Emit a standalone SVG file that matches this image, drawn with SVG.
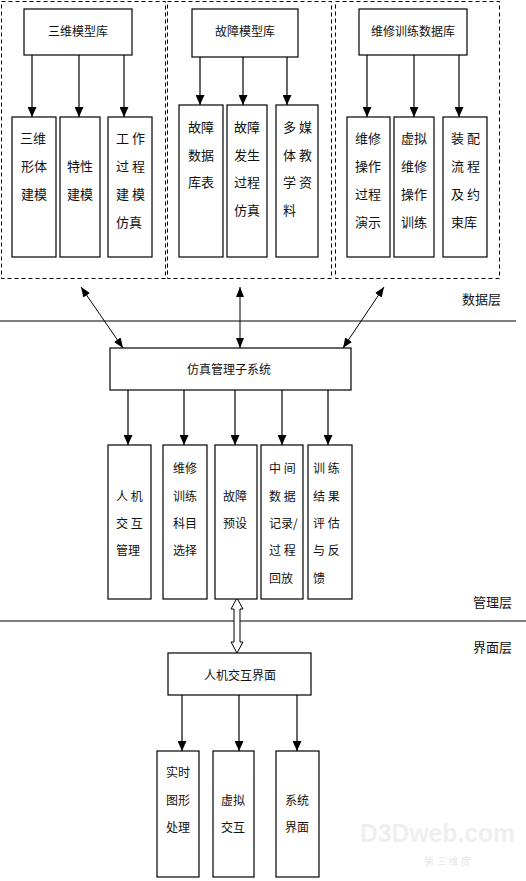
<svg xmlns="http://www.w3.org/2000/svg" width="526" height="881" viewBox="0 0 526 881">
<defs>
<marker id="ah" markerUnits="userSpaceOnUse" markerWidth="10" markerHeight="9" refX="10" refY="4.5" orient="auto"><path d="M0,0 L10,4.5 L0,9 z" fill="#000"/></marker>
<marker id="ah2" markerUnits="userSpaceOnUse" markerWidth="10" markerHeight="8" refX="10" refY="4" orient="auto-start-reverse"><path d="M0,0 L10,4 L0,8 z" fill="#000"/></marker>
</defs>
<style>
rect{fill:#fff;stroke:#000;stroke-width:1.2}
.dash{fill:none;stroke:#000;stroke-width:1;stroke-dasharray:4 3}
text{font-family:"Noto Sans CJK SC","Noto Sans",sans-serif;fill:#111}
.h{font-size:12px;text-anchor:middle}
.c{font-size:12px}
.t{font-size:13px}
.L{font-size:13px}
.a{stroke:#000;stroke-width:1.2;fill:none;marker-end:url(#ah)}
.d{stroke:#000;stroke-width:1;fill:none;marker-start:url(#ah2);marker-end:url(#ah2)}
.ln{stroke:#000;stroke-width:1.2}
</style>
<rect width="526" height="881" style="fill:#fff;stroke:none"/>

<g id="layers">
<line class="ln" x1="0" y1="321" x2="516" y2="321"/>
<line class="ln" x1="0" y1="621" x2="526" y2="621"/>
<text class="L" x="462" y="304">数据层</text>
<text class="L" x="473" y="607">管理层</text>
<text class="L" x="473" y="652">界面层</text>
</g>

<g id="groups">
<rect class="dash" x="1.5" y="1.5" width="164" height="277"/>
<rect class="dash" x="167.5" y="1.5" width="164" height="277"/>
<rect class="dash" x="335.5" y="1.5" width="164" height="277"/>
</g>

<g id="connectors">
<line class="a" x1="32" y1="55" x2="32" y2="117"/>
<line class="a" x1="79" y1="55" x2="79" y2="117"/>
<line class="a" x1="124" y1="55" x2="124" y2="117"/>
<line class="a" x1="200" y1="57" x2="200" y2="105"/>
<line class="a" x1="243" y1="57" x2="243" y2="105"/>
<line class="a" x1="287" y1="57" x2="287" y2="105"/>
<line class="a" x1="367" y1="55" x2="367" y2="117"/>
<line class="a" x1="414" y1="55" x2="414" y2="117"/>
<line class="a" x1="459" y1="55" x2="459" y2="117"/>
<line class="d" x1="81" y1="287" x2="123" y2="348"/>
<line class="d" x1="240" y1="287" x2="240" y2="348"/>
<line class="d" x1="384" y1="287" x2="343" y2="348"/>
<line class="a" x1="128" y1="390" x2="128" y2="445"/>
<line class="a" x1="184" y1="390" x2="184" y2="445"/>
<line class="a" x1="235" y1="390" x2="235" y2="445"/>
<line class="a" x1="282" y1="390" x2="282" y2="445"/>
<line class="a" x1="328" y1="390" x2="328" y2="445"/>
<polygon points="237,598 243,609 240,609 240,642 243,642 237,653 231,642 234,642 234,609 231,609" fill="#fff" stroke="#000" stroke-width="1"/>
<line class="a" x1="182" y1="695" x2="182" y2="751"/>
<line class="a" x1="239" y1="695" x2="239" y2="751"/>
<line class="a" x1="297" y1="695" x2="297" y2="751"/>
</g>

<g id="n-3dlib"><rect x="24" y="9" width="108" height="46"/><text class="h" x="78" y="36">三维模型库</text></g>
<g id="n-3d-1"><rect x="12" y="117" width="44" height="140"/><text class="t" x="20" y="143">三维</text><text class="t" x="21" y="171">形体</text><text class="t" x="21" y="199">建模</text></g>
<g id="n-3d-2"><rect x="60" y="117" width="40" height="140"/><text class="t" x="67" y="171">特性</text><text class="t" x="67" y="199">建模</text></g>
<g id="n-3d-3"><rect x="108" y="117" width="44" height="140"/><text class="t" x="116" y="143">工 作</text><text class="t" x="116" y="171">过 程</text><text class="t" x="116" y="199">建 模</text><text class="t" x="116" y="227">仿真</text></g>

<g id="n-faultlib"><rect x="192" y="9" width="106" height="48"/><text class="h" x="245" y="36">故障模型库</text></g>
<g id="n-f-1"><rect x="179" y="105" width="44" height="152"/><text class="t" x="188" y="132">故障</text><text class="t" x="188" y="160">数据</text><text class="t" x="188" y="187">库表</text></g>
<g id="n-f-2"><rect x="227" y="105" width="40" height="152"/><text class="t" x="234" y="132">故障</text><text class="t" x="234" y="160">发生</text><text class="t" x="234" y="187">过程</text><text class="t" x="234" y="215">仿真</text></g>
<g id="n-f-3"><rect x="276" y="105" width="42" height="152"/><text class="t" x="283" y="132">多 媒</text><text class="t" x="283" y="160">体 教</text><text class="t" x="283" y="187">学 资</text><text class="t" x="283" y="215">料</text></g>

<g id="n-trainlib"><rect x="359" y="9" width="108" height="46"/><text class="h" x="413" y="36">维修训练数据库</text></g>
<g id="n-t-1"><rect x="347" y="117" width="43" height="140"/><text class="t" x="355" y="143">维修</text><text class="t" x="355" y="171">操作</text><text class="t" x="355" y="199">过程</text><text class="t" x="355" y="227">演示</text></g>
<g id="n-t-2"><rect x="394" y="117" width="40" height="140"/><text class="t" x="401" y="143">虚拟</text><text class="t" x="401" y="171">维修</text><text class="t" x="401" y="199">操作</text><text class="t" x="401" y="227">训练</text></g>
<g id="n-t-3"><rect x="443" y="117" width="44" height="140"/><text class="t" x="451" y="143">装 配</text><text class="t" x="451" y="171">流 程</text><text class="t" x="451" y="199">及 约</text><text class="t" x="451" y="227">束库</text></g>

<g id="n-sim"><rect x="110" y="348" width="241" height="42"/><text class="h" x="229" y="374">仿真管理子系统</text></g>
<g id="n-m-1"><rect x="108" y="445" width="43" height="154"/><text class="c" x="116" y="501">人 机</text><text class="c" x="116" y="528">交 互</text><text class="c" x="116" y="555">管理</text></g>
<g id="n-m-2"><rect x="163" y="445" width="44" height="154"/><text class="c" x="173" y="473">维修</text><text class="c" x="173" y="501">训练</text><text class="c" x="173" y="528">科目</text><text class="c" x="173" y="555">选择</text></g>
<g id="n-m-3"><rect x="215" y="445" width="42" height="154"/><text class="c" x="223" y="501">故障</text><text class="c" x="223" y="528">预设</text></g>
<g id="n-m-4"><rect x="261" y="445" width="42" height="154"/><text class="c" x="269" y="473">中 间</text><text class="c" x="269" y="501">数 据</text><text class="c" x="269" y="528">记录/</text><text class="c" x="269" y="555">过 程</text><text class="c" x="269" y="583">回放</text></g>
<g id="n-m-5"><rect x="308" y="445" width="44" height="154"/><text class="c" x="313" y="473">训 练</text><text class="c" x="313" y="501">结 果</text><text class="c" x="313" y="528">评 估</text><text class="c" x="313" y="555">与 反</text><text class="c" x="313" y="583">馈</text></g>

<g id="n-ui"><rect x="168" y="653" width="143" height="42"/><text class="h" x="240" y="680">人机交互界面</text></g>
<g id="n-u-1"><rect x="157" y="751" width="42" height="126"/><text class="c" x="166" y="777">实时</text><text class="c" x="166" y="805">图形</text><text class="c" x="166" y="832">处理</text></g>
<g id="n-u-2"><rect x="213" y="751" width="41" height="126"/><text class="c" x="221" y="805">虚拟</text><text class="c" x="221" y="832">交互</text></g>
<g id="n-u-3"><rect x="276" y="751" width="43" height="126"/><text class="c" x="285" y="805">系统</text><text class="c" x="285" y="832">界面</text></g>

<g id="watermark">
<text x="360" y="842" style="font-family:'Liberation Sans',sans-serif;font-size:25px;font-weight:bold;fill:#efefef" textLength="155" lengthAdjust="spacingAndGlyphs">D3Dweb.com</text>
<text x="424" y="865" style="font-size:10px;fill:#e8e8e8">第  三  维  度</text>
</g>
</svg>
